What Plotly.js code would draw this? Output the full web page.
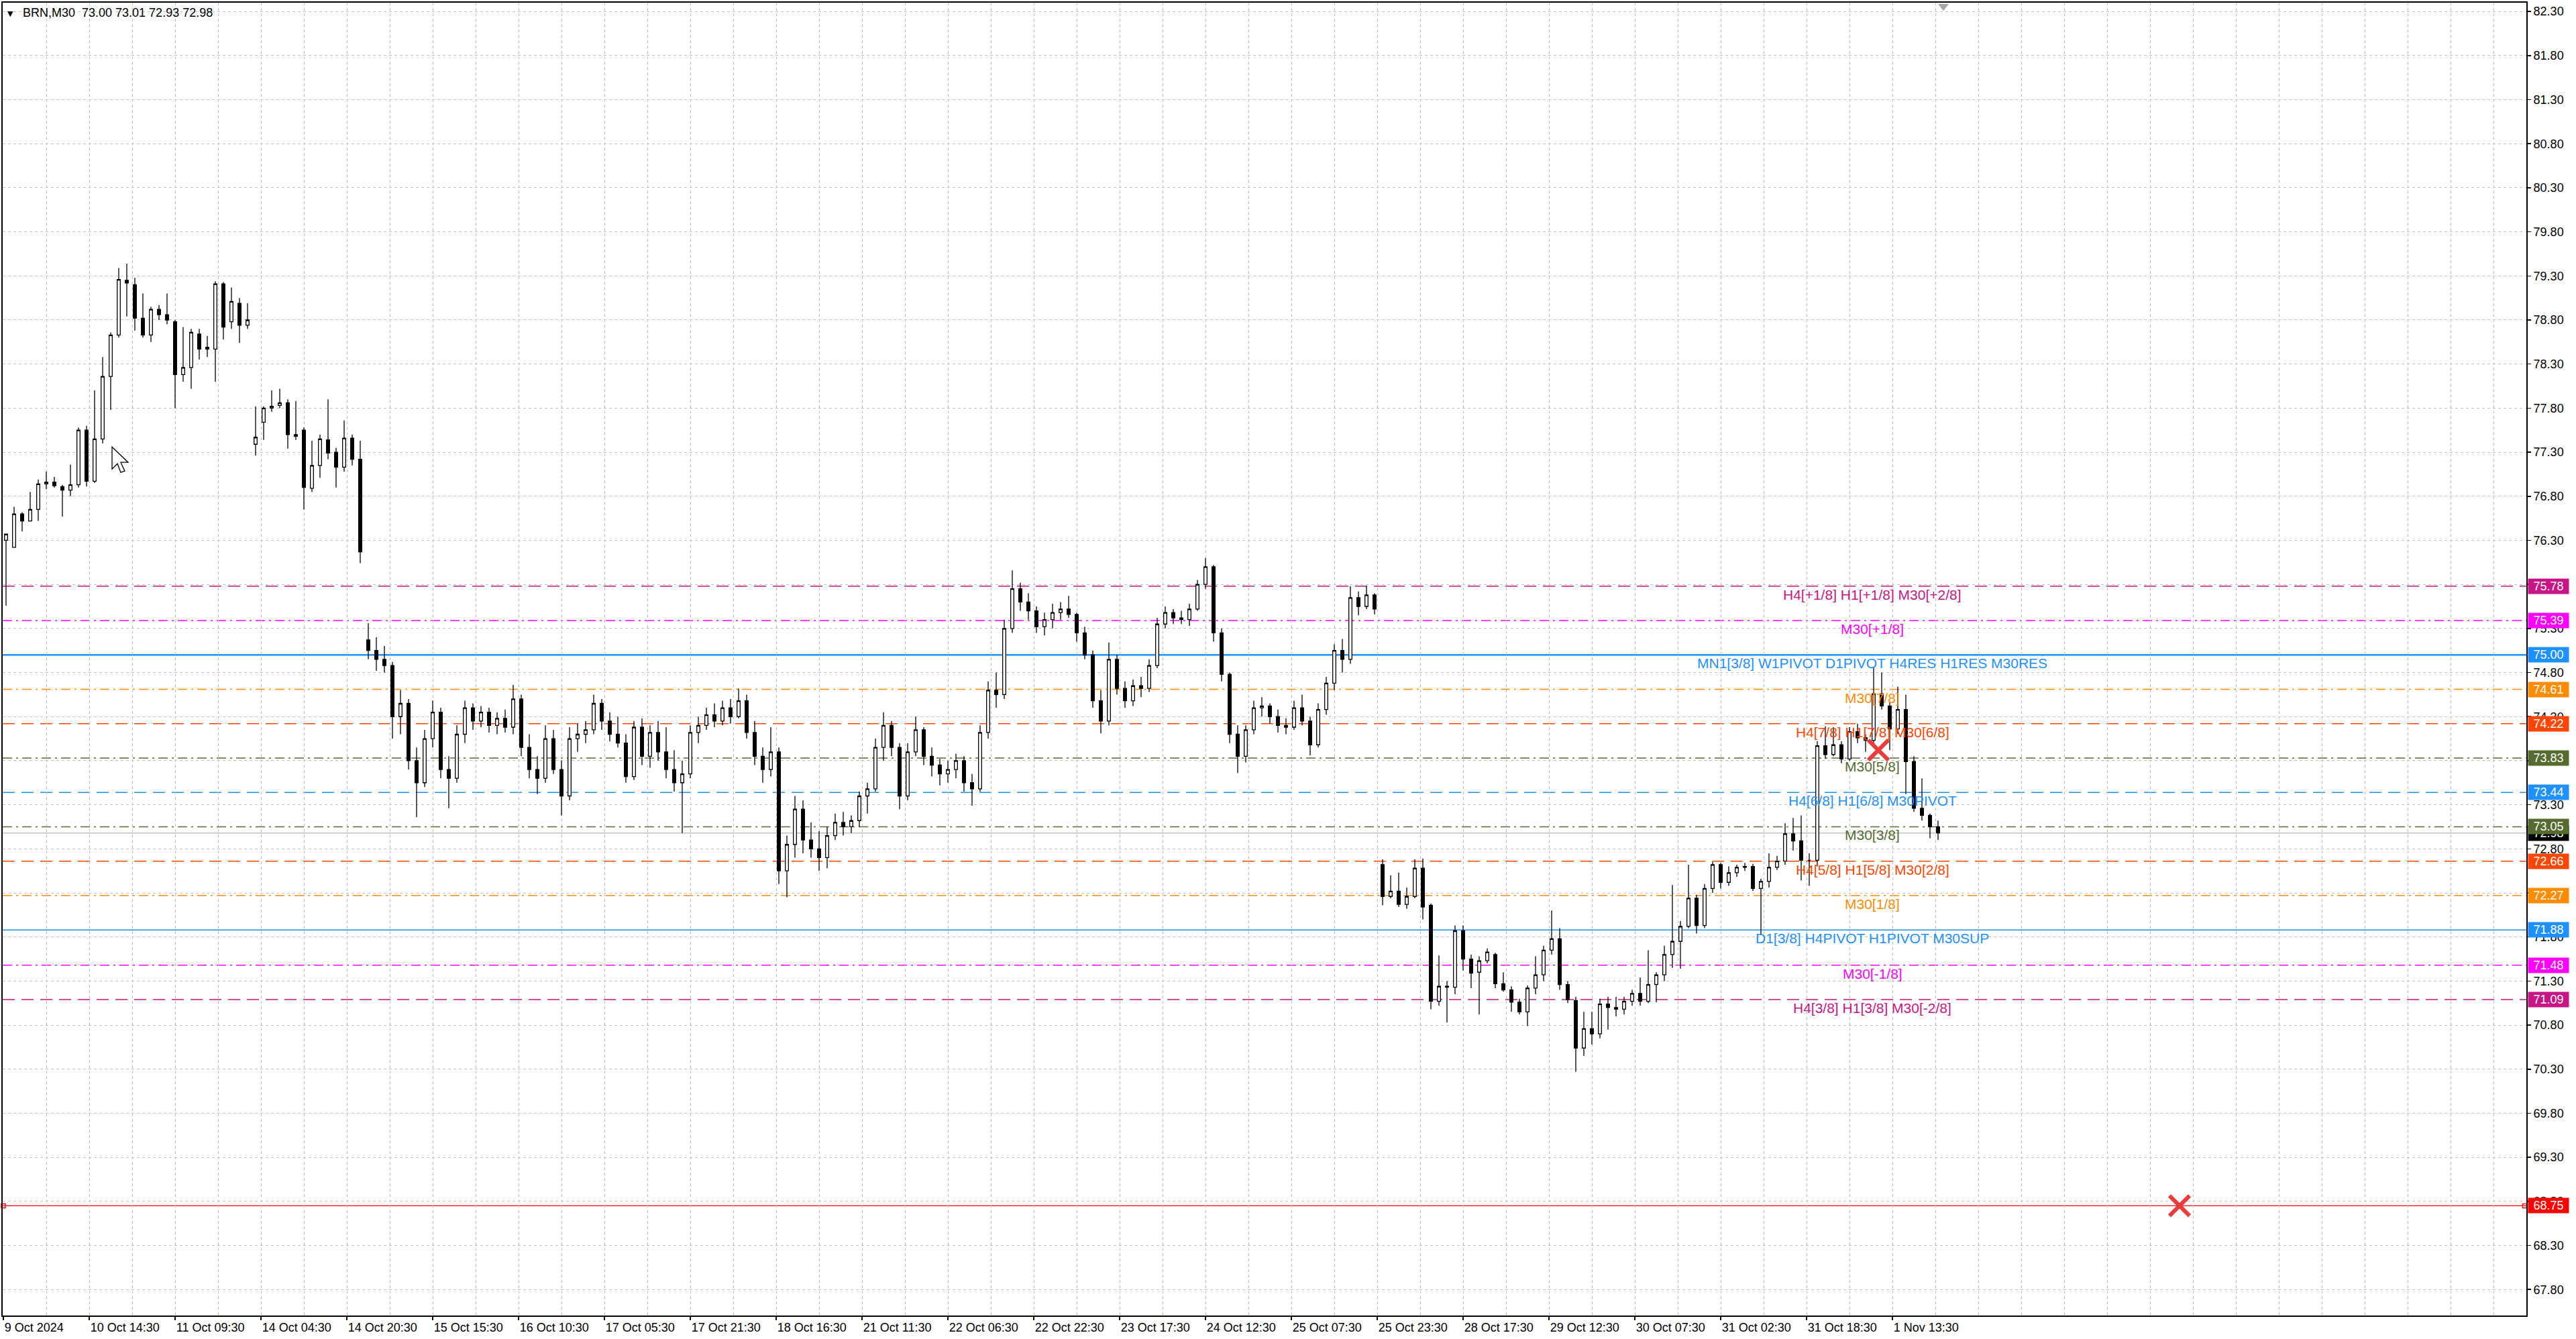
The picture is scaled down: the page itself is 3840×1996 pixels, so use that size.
<!DOCTYPE html>
<html>
<head>
<meta charset="utf-8">
<script src="https://cdn.plot.ly/plotly-3.0.1.min.js"></script>
<style>
html,body{margin:0;padding:0;background:#fff;}
#chart{width:3840px;height:1996px;}
</style>
</head>
<body>
<div id="chart"></div>
<script>
// ---- DATA (each candle groups three consecutive M30 bars of BRN) ----
const openP = [
76.30,76.22,76.60,76.52,76.65,76.94,76.96,76.91,76.87,76.93,
77.55,76.97,77.45,78.16,78.63,79.25,79.20,78.82,78.63,78.92,
78.86,78.78,78.18,78.26,78.64,78.49,78.47,79.21,78.78,78.99,
78.74,77.39,77.64,77.80,77.83,77.86,77.50,77.55,76.89,77.15,
77.44,77.30,77.13,77.46,77.22,
75.17,75.05,74.95,74.88,74.30,
74.45,73.80,73.55,74.05,74.35,73.70,73.60,74.10,74.40,74.25,
74.35,74.20,74.28,74.18,74.50,73.95,73.70,73.60,74.05,73.70,
73.40,74.05,74.10,74.15,74.45,74.25,74.10,74.00,73.62,74.18,
73.85,74.12,73.90,73.70,73.55,73.65,74.12,74.20,74.32,74.25,
74.40,74.30,74.48,74.12,73.85,73.70,73.90,72.55,72.85,73.25,
72.90,72.80,72.70,72.95,73.10,73.05,73.12,73.40,73.48,73.95,
74.20,73.95,73.40,73.90,74.15,73.85,73.75,73.65,73.70,73.80,
73.55,73.48,74.12,74.60,74.55,75.30,75.75,75.60,75.50,75.32,
75.40,75.48,75.52,75.46,75.25,75.00,74.48,74.25,74.95,74.62,
74.48,74.65,74.62,74.88,75.35,75.48,75.42,75.40,75.52,75.80,
76.00,75.25,74.78,74.10,73.85,74.15,74.40,74.42,74.30,74.20,
74.18,74.40,74.25,73.98,74.38,74.68,75.05,74.95,75.65,75.55,75.68,
72.62,72.26,72.32,72.17,72.26,72.58,72.16,71.07,71.24,71.23,
71.87,71.55,71.40,71.53,71.60,71.27,71.20,71.06,70.95,71.22,
71.37,71.65,71.78,71.26,71.08,70.54,70.76,70.70,71.04,71.00,
70.98,71.07,71.16,71.07,71.26,71.37,71.60,71.75,71.92,72.24,
71.93,72.35,72.62,72.42,72.53,72.59,72.60,72.35,72.43,72.59,
72.66,72.97,72.89,72.67,72.67,73.97,73.87,73.98,73.82,74.13,
74.06,74.03,74.56,74.42,74.16,74.38,73.79,73.26,73.18,73.05
];
const highP = [
76.37,76.68,76.62,76.85,76.99,77.08,77.02,76.93,77.16,77.58,
77.60,78.00,78.38,78.66,79.39,79.44,79.28,79.10,78.95,78.97,
79.10,78.80,78.72,78.70,78.70,78.62,79.24,79.23,79.17,79.05,
78.99,77.82,77.82,78.00,78.02,77.90,77.88,77.58,77.43,77.50,
77.90,77.35,77.66,77.50,77.43,
75.36,75.20,75.10,74.92,74.60,
74.50,73.95,74.15,74.48,74.40,73.85,74.20,74.48,74.45,74.42,
74.40,74.35,74.38,74.66,74.55,74.10,73.85,74.20,74.15,73.80,
74.18,74.22,74.25,74.55,74.50,74.35,74.30,74.10,74.25,74.28,
74.20,74.25,74.18,73.92,73.80,74.20,74.30,74.40,74.45,74.48,
74.50,74.62,74.55,74.25,73.95,74.18,73.95,72.95,73.40,73.35,
73.10,73.00,73.05,73.20,73.22,73.18,73.45,73.55,74.05,74.35,
74.25,74.00,74.00,74.30,74.18,73.95,73.82,73.80,73.88,73.85,
73.65,74.20,74.70,74.80,75.40,75.96,75.82,75.70,75.55,75.48,
75.58,75.60,75.67,75.48,75.32,75.05,74.60,75.14,75.00,74.70,
74.72,74.75,74.95,75.42,75.55,75.52,75.50,75.58,75.85,76.10,
76.02,75.30,74.80,74.20,74.20,74.48,74.52,74.45,74.38,74.28,
74.48,74.55,74.30,74.45,74.75,75.12,75.18,75.78,75.72,75.78,75.70,
72.68,72.50,72.53,72.36,72.68,72.69,72.18,71.59,71.30,71.93,
71.93,71.60,71.58,71.67,71.62,71.40,71.24,71.10,71.25,71.58,
71.70,72.10,71.90,71.30,71.12,70.95,70.95,71.10,71.12,71.12,
71.12,71.20,71.34,71.65,71.40,71.70,72.39,71.98,72.62,72.28,
72.40,72.65,72.64,72.60,72.62,72.64,72.63,72.46,72.75,72.72,
73.09,73.15,73.18,72.75,74.02,74.19,74.18,74.02,74.18,74.22,
74.10,74.86,74.80,74.46,74.64,74.55,73.85,73.60,73.20,73.12
];
const lowP = [
75.56,76.22,76.40,76.52,76.52,76.88,76.90,76.57,76.80,76.90,
76.91,76.95,77.40,77.78,78.60,78.84,78.68,78.60,78.55,78.80,
78.75,77.80,78.10,78.02,78.35,78.38,78.10,78.58,78.70,78.54,
78.70,77.26,77.44,77.76,77.80,77.34,77.44,76.65,76.85,77.01,
77.22,76.90,77.08,77.15,76.04,
74.95,74.82,74.80,74.05,74.10,
73.70,73.16,73.50,73.95,73.60,73.26,73.55,74.00,74.15,74.18,
74.12,74.10,74.12,74.10,73.85,73.60,73.42,73.55,73.65,73.18,
73.35,73.90,74.00,74.10,74.15,74.02,73.95,73.55,73.58,73.75,
73.72,73.80,73.60,73.45,72.98,73.60,74.00,74.15,74.18,74.20,
74.22,74.28,74.05,73.75,73.55,73.62,72.40,72.25,72.70,72.75,
72.70,72.55,72.58,72.90,72.95,72.98,73.05,73.20,73.45,73.80,
73.85,73.25,73.35,73.85,73.75,73.62,73.52,73.55,73.60,73.45,
73.29,73.45,74.05,74.40,74.50,75.25,75.50,75.40,75.25,75.22,
75.30,75.40,75.42,75.15,74.95,74.40,74.11,74.20,74.55,74.40,
74.42,74.52,74.58,74.85,75.30,75.35,75.35,75.33,75.50,75.75,
75.15,74.70,74.00,73.66,73.78,74.10,74.30,74.22,74.12,74.10,
74.15,74.20,73.86,73.95,74.32,74.60,74.80,74.90,75.45,75.52,75.46,
72.16,72.24,72.14,72.12,72.24,72.00,70.98,71.02,70.83,71.15,
71.42,71.22,70.92,71.50,71.22,71.18,70.95,70.92,70.79,71.15,
71.30,71.60,71.20,71.05,70.27,70.45,70.58,70.65,70.75,70.90,
70.92,71.02,71.02,71.05,71.06,71.30,71.45,71.44,71.90,71.84,
71.90,72.30,72.35,72.38,72.48,72.55,72.32,71.82,72.36,72.56,
72.62,72.78,72.44,72.38,72.60,73.82,73.85,73.77,73.80,74.00,
73.90,73.98,74.38,73.92,74.10,73.42,73.22,73.12,72.92,72.90
];
const closeP = [
76.37,76.60,76.52,76.65,76.94,76.96,76.92,76.87,76.93,77.55,
76.97,77.45,78.16,78.63,79.26,79.22,78.82,78.63,78.92,78.86,
78.80,78.18,78.26,78.66,78.47,78.47,79.21,78.72,79.01,78.74,
78.80,77.47,77.80,77.82,77.86,77.50,77.48,76.90,77.15,77.45,
77.29,77.13,77.46,77.22,76.17,
75.05,74.95,74.88,74.30,74.45,
73.80,73.55,74.05,74.35,73.70,73.60,74.10,74.40,74.25,74.35,
74.20,74.28,74.18,74.50,73.95,73.70,73.60,74.05,73.70,73.40,
74.05,74.10,74.15,74.45,74.25,74.10,74.00,73.62,74.18,73.85,
74.12,73.90,73.70,73.55,73.65,74.12,74.20,74.32,74.25,74.40,
74.30,74.48,74.12,73.85,73.70,73.90,72.55,72.85,73.25,72.90,
72.80,72.70,72.95,73.10,73.05,73.12,73.40,73.48,73.95,74.20,
73.95,73.40,73.90,74.15,73.85,73.75,73.65,73.70,73.80,73.55,
73.48,74.12,74.60,74.55,75.30,75.75,75.60,75.50,75.32,75.40,
75.48,75.52,75.46,75.25,75.00,74.48,74.25,74.95,74.62,74.48,
74.65,74.62,74.88,75.35,75.48,75.42,75.40,75.52,75.80,76.00,
75.25,74.78,74.10,73.85,74.15,74.40,74.42,74.30,74.20,74.18,
74.40,74.25,73.98,74.38,74.68,75.05,74.95,75.65,75.55,75.68,75.52,
72.26,72.32,72.17,72.26,72.58,72.14,71.07,71.24,71.23,71.87,
71.55,71.39,71.53,71.63,71.27,71.20,71.06,70.95,71.22,71.37,
71.65,71.78,71.26,71.09,70.54,70.76,70.70,71.04,71.00,70.98,
71.07,71.16,71.07,71.26,71.37,71.60,71.75,71.92,72.24,71.93,
72.35,72.62,72.42,72.53,72.59,72.60,72.35,72.43,72.59,72.66,
72.97,72.89,72.67,72.67,73.97,73.87,73.98,73.82,74.13,74.06,
74.03,74.56,74.42,74.16,74.38,73.79,73.26,73.18,73.05,72.98
];

const timeLabels = ["9 Oct 2024","10 Oct 14:30","11 Oct 09:30","14 Oct 04:30","14 Oct 20:30",
"15 Oct 15:30","16 Oct 10:30","17 Oct 05:30","17 Oct 21:30","18 Oct 16:30","21 Oct 11:30",
"22 Oct 06:30","22 Oct 22:30","23 Oct 17:30","24 Oct 12:30","25 Oct 07:30","25 Oct 23:30",
"28 Oct 17:30","29 Oct 12:30","30 Oct 07:30","31 Oct 02:30","31 Oct 18:30","1 Nov 13:30"];

const levelPrices = [75.78,75.39,75.00,74.61,74.22,73.83,73.44,73.05,72.66,72.27,71.88,71.48,71.09];
const levelNames = ["H4[+1/8] H1[+1/8] M30[+2/8]","M30[+1/8]","MN1[3/8] W1PIVOT D1PIVOT H4RES H1RES M30RES",
"M30[7/8]","H4[7/8] H1[7/8] M30[6/8]","M30[5/8]","H4[6/8] H1[6/8] M30PIVOT","M30[3/8]",
"H4[5/8] H1[5/8] M30[2/8]","M30[1/8]","D1[3/8] H4PIVOT H1PIVOT M30SUP","M30[-1/8]","H4[3/8] H1[3/8] M30[-2/8]"];
const stopPrice = 68.75;
const bidPrice = 72.98;
const headerText = "BRN,M30  73.00 73.01 72.93 72.98";
const crossBars = [698.75, 811];
const crossPrices = [73.92, 68.75];

// ---- STYLE / LAYOUT ----
const BARS_PER_CANDLE = 3;
const LABEL_STEP = 32;        // M30 bars between time labels
const GRID_STEP = 16;
const LABEL_BAR = 696.5;      // horizontal centre of level captions
const levelColors = ["#C71585","#FF00FF","#1E90FF","#FF8C00","#FF4500","#556B2F","#1E90FF","#556B2F",
"#FF4500","#FF8C00","#1E90FF","#FF00FF","#C71585"];
const dashLong = "18px,10px";
const dashDot = "14px,6px,3px,6px";
const levelDash = [dashLong,dashDot,"solid",dashDot,dashLong,dashDot,dashLong,dashDot,dashLong,dashDot,"solid",dashDot,dashLong];
const levelWidth = [1.5,1.5,2.5,1.5,1.5,1.5,1.5,1.5,1.5,1.5,1.5,1.5,1.5];
const FONT = "Liberation Sans, Arial, sans-serif";

const xs = openP.map((_, i) => i * BARS_PER_CANDLE + 1);

const candles = {
  type: 'candlestick', x: xs, open: openP, high: highP, low: lowP, close: closeP,
  increasing: {line: {color: '#000', width: 1.3}, fillcolor: '#FFFFFF'},
  decreasing: {line: {color: '#000', width: 1.3}, fillcolor: '#000000'},
  whiskerwidth: 0, hoverinfo: 'skip', showlegend: false
};
const crosses = {
  type: 'scatter', mode: 'markers', x: crossBars, y: crossPrices, cliponaxis: false,
  marker: {symbol: 'x-thin', size: 30, line: {width: 6, color: '#EC3B3B'}}, hoverinfo: 'skip', showlegend: false
};
const endMarks = {
  type: 'scatter', mode: 'markers', x: [0, 939.6], y: [stopPrice, stopPrice], cliponaxis: false,
  marker: {symbol: 'square-open', size: 6, color: '#FF0000', line: {width: 1.5, color: '#FF0000'}},
  hoverinfo: 'skip', showlegend: false
};
const shiftMark = {
  type: 'scatter', mode: 'markers', x: [723], y: [82.36], cliponaxis: false,
  marker: {symbol: 'triangle-down', size: 14, color: '#A8A8A8'}, hoverinfo: 'skip', showlegend: false
};

const shapes = [];
levelPrices.forEach((p, i) => {
  shapes.push({type: 'line', xref: 'paper', x0: 0, x1: 1, yref: 'y', y0: p, y1: p, layer: 'below',
    line: {color: levelColors[i], width: levelWidth[i], dash: levelDash[i]}});
});
shapes.push({type: 'line', xref: 'paper', x0: 0, x1: 1, yref: 'y', y0: bidPrice, y1: bidPrice, layer: 'below',
  line: {color: '#C0C0C0', width: 1.5}});
shapes.push({type: 'line', xref: 'paper', x0: 0, x1: 1, yref: 'y', y0: stopPrice, y1: stopPrice, layer: 'below',
  line: {color: '#FF0000', width: 1.3}});
// mouse pointer left on the screenshot
shapes.push({type: 'path', xref: 'x', yref: 'y', xsizemode: 'pixel', ysizemode: 'pixel', xanchor: 40.5, yanchor: 77.36,
  path: 'M0,0 L0,-33 L8,-25 L13,-38 L19,-36 L13,-23 L24,-23 Z', layer: 'above',
  fillcolor: '#FFFFFF', line: {color: '#000000', width: 1.3}});

const annotations = [];
levelPrices.forEach((p, i) => {
  annotations.push({x: LABEL_BAR, xref: 'x', y: p, yref: 'y', yanchor: 'top', xanchor: 'center', yshift: 1,
    text: levelNames[i], showarrow: false, font: {family: FONT, size: 21, color: levelColors[i]}});
});
function tag(p, color) {
  return {x: 1, xref: 'paper', xanchor: 'left', xshift: 2, y: p, yref: 'y', yanchor: 'middle',
    text: p.toFixed(2), showarrow: false, bgcolor: color, width: 60, height: 22, borderpad: 0, align: 'center',
    font: {family: FONT, size: 18, color: '#FFFFFF'}};
}
annotations.push(tag(bidPrice, '#000000'));
levelPrices.forEach((p, i) => annotations.push(tag(p, levelColors[i])));
annotations.push(tag(stopPrice, '#FF0000'));
annotations.push({x: 0, xref: 'paper', xanchor: 'left', xshift: 28, y: 1, yref: 'paper', yanchor: 'top', yshift: -3,
  text: headerText.replace(/ /g, '&nbsp;'), showarrow: false, font: {family: FONT, size: 18, color: '#000'}});
annotations.push({x: 0, xref: 'paper', xanchor: 'left', xshift: 5, y: 1, yref: 'paper', yanchor: 'top', yshift: -8,
  text: '▼', showarrow: false, font: {family: 'DejaVu Sans', size: 11, color: '#000'}});

const layout = {
  width: 3840, height: 1996,
  margin: {l: 4, r: 74, t: 4, b: 35, pad: 0},
  paper_bgcolor: '#FFFFFF', plot_bgcolor: '#FFFFFF',
  showlegend: false,
  boxgap: 0.45,
  xaxis: {
    range: [-0.25, 940.25], rangeslider: {visible: false}, fixedrange: true,
    tickmode: 'array', tickvals: timeLabels.map((_, k) => k * LABEL_STEP), ticktext: timeLabels,
    ticks: 'outside', ticklen: 5, tickwidth: 1.5, tickcolor: '#000',
    ticklabelposition: 'outside right',
    tickfont: {family: FONT, size: 18, color: '#000'},
    showgrid: false,
    minor: {tickmode: 'linear', tick0: 0, dtick: GRID_STEP, showgrid: true, gridcolor: '#C4C4C4', griddash: '4px,4px', gridwidth: 1, ticks: ''},
    showline: true, linecolor: '#000', linewidth: 2, mirror: true, zeroline: false
  },
  yaxis: {
    side: 'right', range: [67.505, 82.40], fixedrange: true,
    tickmode: 'linear', tick0: 67.80, dtick: 0.5, tickformat: '.2f',
    ticks: 'outside', ticklen: 5, tickwidth: 1.5, tickcolor: '#000',
    tickfont: {family: FONT, size: 18, color: '#000'},
    showgrid: true, gridcolor: '#C4C4C4', griddash: '4px,4px', gridwidth: 1,
    showline: true, linecolor: '#000', linewidth: 2, mirror: true, zeroline: false
  },
  shapes: shapes,
  annotations: annotations
};

Plotly.newPlot('chart', [candles, crosses, endMarks, shiftMark], layout, {staticPlot: true, displayModeBar: false});
</script>
</body>
</html>
